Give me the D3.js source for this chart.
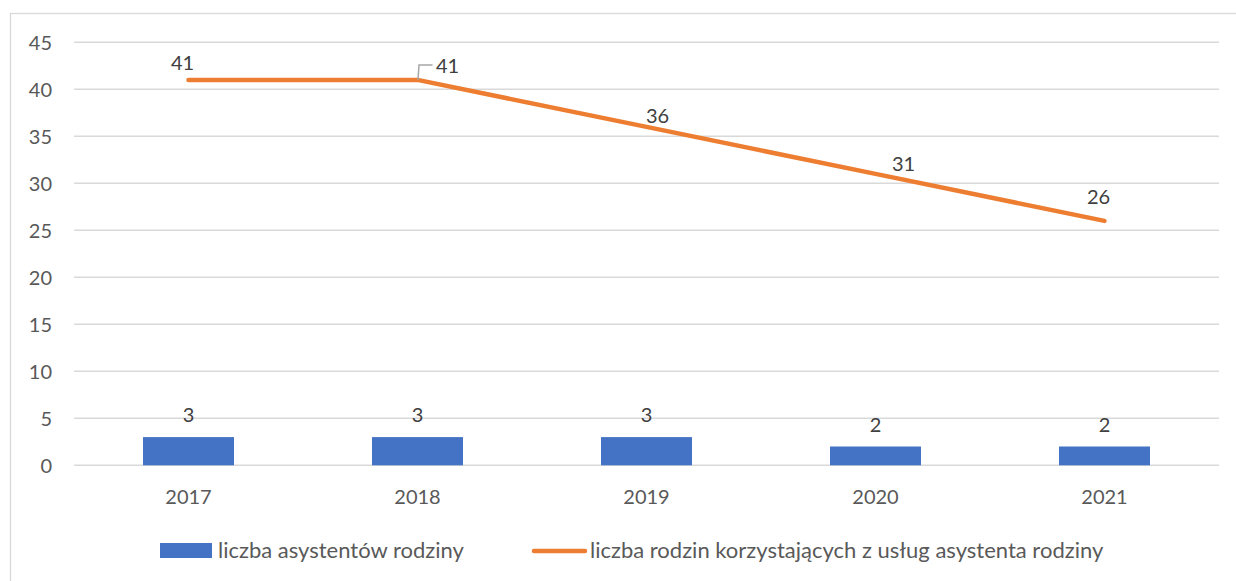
<!DOCTYPE html>
<html><head><meta charset="utf-8">
<script src="https://cdn.jsdelivr.net/npm/d3@7"></script>
<style>body{margin:0;background:#fff}svg{display:block;font-family:Lato,"Open Sans",sans-serif}</style>
</head><body><svg id="c" width="1236" height="581"></svg>
<script>
const categories = ["2017","2018","2019","2020","2021"];
const assistants = [3,3,3,2,2];
const families = [41,41,36,31,26];
const yTicks = [0,5,10,15,20,25,30,35,40,45];
const seriesNames = ["liczba asystentów rodziny","liczba rodzin korzystających z usług asystenta rodziny"];

const svg = d3.select("#c");
const W=1236,H=581;
const m={left:74,right:17,top:42.3,bottom:115.7};
svg.append("rect").attr("x",10.5).attr("y",13.5).attr("width",W).attr("height",H).attr("fill","#fff").attr("stroke","#d9d9d9").attr("stroke-width",1.3);

const x=d3.scaleBand().domain(categories).range([m.left,W-m.right]);
const y=d3.scaleLinear().domain([0,45]).range([H-m.bottom,m.top]);

// grid
svg.append("g").selectAll("line").data(yTicks).join("line")
 .attr("x1",m.left).attr("x2",W-m.right).attr("y1",d=>y(d)).attr("y2",d=>y(d))
 .attr("stroke","#d9d9d9").attr("stroke-width",1.5);
// y labels
svg.append("g").selectAll("text").data(yTicks).join("text")
 .attr("x",52).attr("y",d=>y(d)).attr("dy","0.36em").attr("text-anchor","end")
 .attr("font-size",20).attr("fill","#595959").text(d=>d);
// x labels
svg.append("g").selectAll("text").data(categories).join("text")
 .attr("x",d=>x(d)+x.bandwidth()/2).attr("y",504).attr("text-anchor","middle")
 .attr("font-size",20).attr("fill","#595959").text(d=>d);

// bars
const bw=91;
svg.append("g").selectAll("rect").data(assistants).join("rect")
 .attr("x",(d,i)=>x(categories[i])+x.bandwidth()/2-bw/2).attr("width",bw)
 .attr("y",d=>y(d)).attr("height",d=>y(0)-y(d)).attr("fill","#4472C4");
svg.append("g").selectAll("text").data(assistants).join("text")
 .attr("x",(d,i)=>x(categories[i])+x.bandwidth()/2).attr("y",d=>y(d)-15)
 .attr("text-anchor","middle").attr("font-size",20).attr("fill","#404040").text(d=>d);

// line
const cx=(i)=>x(categories[i])+x.bandwidth()/2;
svg.append("path").datum(families)
 .attr("d",d3.line().x((d,i)=>cx(i)).y(d=>y(d)))
 .attr("fill","none").attr("stroke","#ED7D31").attr("stroke-width",4.5).attr("stroke-linecap","round").attr("stroke-linejoin","round");

// line labels (layout nudges)
const nudge=[[-6,-10],[30,-7],[11,-4],[28,-3],[-6,-17]];
svg.append("g").selectAll("text").data(families).join("text")
 .attr("x",(d,i)=>cx(i)+nudge[i][0]).attr("y",(d,i)=>y(d)+nudge[i][1])
 .attr("text-anchor","middle").attr("font-size",20).attr("fill","#404040").text(d=>d);
// leader line for 2018 label
svg.append("path").attr("d",`M${cx(1)+0.5},${y(families[1])} L${cx(1)+1.5},${y(families[1])-15} L${cx(1)+15},${y(families[1])-15}`)
 .attr("fill","none").attr("stroke","#a6a6a6").attr("stroke-width",1.5);

// legend
const lg=svg.append("g");
lg.append("rect").attr("x",160).attr("y",543).attr("width",52).attr("height",15).attr("fill","#4472C4");
lg.append("text").attr("x",218).attr("y",558).attr("font-size",22).attr("fill","#595959").text(seriesNames[0]);
lg.append("line").attr("x1",534).attr("x2",585).attr("y1",551).attr("y2",551).attr("stroke","#ED7D31").attr("stroke-width",4.5).attr("stroke-linecap","round");
lg.append("text").attr("x",590).attr("y",558).attr("font-size",22).attr("fill","#595959").text(seriesNames[1]);
</script></body></html>
